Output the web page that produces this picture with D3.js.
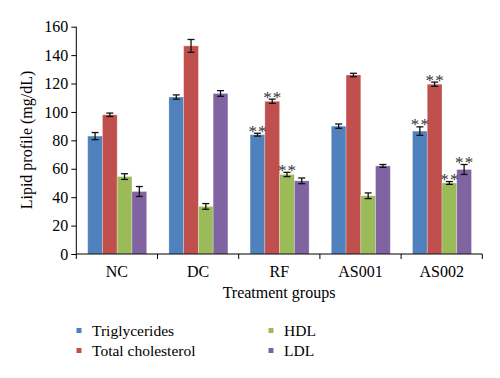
<!DOCTYPE html>
<html><head><meta charset="utf-8">
<script src="https://cdn.jsdelivr.net/npm/d3@7"></script>
<style>body{margin:0;background:#fff}svg{display:block}text{font-family:"Liberation Serif","Times New Roman",serif}</style>
</head><body><svg id="c" width="500" height="378"></svg>
<script>
const categories = ["NC","DC","RF","AS001","AS002"];
const seriesNames = ["Triglycerides","Total cholesterol","HDL","LDL"];
const triglycerides = [83, 110.5, 84, 90, 86.5];
const totalCholesterol = [98, 146.5, 107.5, 126, 119.5];
const hdl = [54.5, 33.5, 56, 41, 50];
const ldl = [44, 113, 51.5, 62, 59.5];
const triErr = [2.5, 1.5, 1, 1.5, 3];
const tcErr = [1.2, 4.5, 1.5, 1.2, 1.5];
const hdlErr = [2, 2, 1.5, 2, 1];
const ldlErr = [3.5, 2, 2, 1, 3.5];
const triSig = [0,0,1,0,1];
const tcSig = [0,0,1,0,1];
const hdlSig = [0,0,1,0,1];
const ldlSig = [0,0,0,0,1];
const yTicks = [0,20,40,60,80,100,120,140,160];
const colors = ["#4F81BD","#C0504D","#9BBB59","#8064A2"];

const values = [triglycerides,totalCholesterol,hdl,ldl];
const errs = [triErr,tcErr,hdlErr,ldlErr];
const sigs = [triSig,tcSig,hdlSig,ldlSig];

const svg = d3.select("#c");
const x0 = d3.scaleBand().domain(categories).range([76.3,482.3]);
const x1 = d3.scaleBand().domain(seriesNames).range([11.4, x0.bandwidth()-10.8]);
const y = d3.scaleLinear().domain([0,160]).range([254,26.7]);

const data = [];
categories.forEach((c,i)=>seriesNames.forEach((s,j)=>data.push({c,s,j,v:values[j][i],e:errs[j][i],sig:sigs[j][i]})));

const g = svg.append("g");
g.selectAll("rect").data(data).join("rect")
 .attr("x",d=>x0(d.c)+x1(d.s)).attr("width",x1.bandwidth())
 .attr("y",d=>y(d.v)).attr("height",d=>y(0)-y(d.v))
 .attr("fill",d=>colors[d.j]).attr("stroke","#fff").attr("stroke-opacity",0.35).attr("stroke-width",0.8);

// error bars
const eb = g.selectAll("g.eb").data(data).join("g").attr("class","eb")
 .attr("transform",d=>`translate(${x0(d.c)+x1(d.s)+x1.bandwidth()/2},0)`);
eb.append("line").attr("y1",d=>y(d.v-d.e)).attr("y2",d=>y(d.v+d.e)).attr("stroke","#111").attr("stroke-width",1.3);
eb.append("line").attr("x1",-3.5).attr("x2",3.5).attr("y1",d=>y(d.v+d.e)).attr("y2",d=>y(d.v+d.e)).attr("stroke","#111").attr("stroke-width",1.3);
eb.append("line").attr("x1",-3.5).attr("x2",3.5).attr("y1",d=>y(d.v-d.e)).attr("y2",d=>y(d.v-d.e)).attr("stroke","#111").attr("stroke-width",1.3);

// asterisks
const sg = g.selectAll("g.sig").data(data.filter(d=>d.sig)).join("g").attr("class","sig")
 .attr("transform",d=>`translate(${x0(d.c)+x1(d.s)+x1.bandwidth()/2},${y(d.v+d.e)+3.5})`);
[-4.8,4.8].forEach(dx=>sg.append("text").attr("x",dx).attr("text-anchor","middle")
 .attr("font-size",17).attr("fill","#333").text("*"));

// axes
const ya = svg.append("g").attr("transform","translate(76.3,0)")
 .call(d3.axisLeft(y).tickValues(yTicks).tickSize(5).tickPadding(3));
ya.selectAll("text").attr("font-size",16).attr("fill","#000").style("font-family","Liberation Serif");
ya.select(".domain").attr("d","M0,254V26.7");
const xa = svg.append("g").attr("transform","translate(0,254)");
xa.append("line").attr("x1",76.3).attr("x2",482.3).attr("stroke","#000");
xa.selectAll("line.t").data(categories.concat(["_end"])).join("line").attr("class","t")
 .attr("x1",(d,i)=>i<categories.length?x0(d):482.3).attr("x2",(d,i)=>i<categories.length?x0(d):482.3)
 .attr("y1",0).attr("y2",5).attr("stroke","#000");
xa.selectAll("text").data(categories).join("text")
 .attr("x",d=>x0(d)+x0.bandwidth()/2).attr("y",23).attr("text-anchor","middle").attr("font-size",16).text(d=>d);
ya.selectAll("line,path").attr("stroke","#000");

svg.append("text").attr("x",279).attr("y",298).attr("text-anchor","middle").attr("font-size",16).text("Treatment groups");
svg.append("text").attr("transform","translate(32,140) rotate(-90)").attr("text-anchor","middle").attr("font-size",16).text("Lipid profile (mg/dL)");

// legend
const legPos = [[79,330.5],[79,350.5],[271,330.5],[271,350.5]];
const lg = svg.selectAll("g.lg").data(seriesNames).join("g").attr("class","lg")
 .attr("transform",(d,i)=>`translate(${legPos[i][0]},${legPos[i][1]})`);
lg.append("rect").attr("x",-2.5).attr("y",-2.5).attr("width",5).attr("height",5).attr("fill",(d,i)=>colors[i]);
lg.append("text").attr("x",13).attr("y",5.5).attr("font-size",15.5).text(d=>d);
</script></body></html>
